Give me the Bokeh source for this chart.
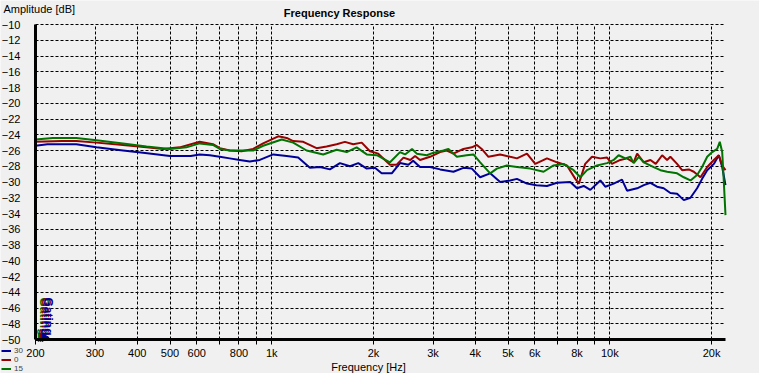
import numpy as np
from bokeh.plotting import figure
from bokeh.models import (ColumnDataSource, FixedTicker, Legend, LegendItem, Label, Range1d)
from bokeh.core.properties import value
from bokeh.embed import file_html
from bokeh.resources import INLINE

# ---------------- data ----------------
series_names = ["30", "0", "15"]

freq_30 = [200, 217, 264, 303, 363, 416, 500, 576, 612, 656, 702, 751, 804, 861, 922, 1010, 1107, 1197,
           1297, 1389, 1486, 1591, 1704, 1803, 1910, 2020, 2114, 2265, 2396, 2537, 2620, 2746, 2940, 3148,
           3448, 3690, 3908, 4136, 4428, 4740, 5076, 5314, 5688, 6066, 6520, 6980, 7640, 8000, 8372, 8760,
           9380, 9700, 10270, 10870, 11250, 12050, 12610, 13190, 13800, 14440, 15110, 15820, 16560, 17330,
           18130, 18760, 19420, 20320, 21020, 21510, 22000]
spl_30 = [-25.4, -25.2, -25.2, -25.6, -26.0, -26.3, -26.7, -26.7, -26.5, -26.6, -26.8, -27.0, -27.2, -27.4,
          -27.2, -26.5, -26.7, -26.9, -28.2, -28.1, -28.4, -27.6, -28.0, -27.6, -28.3, -28.2, -28.9, -28.9,
          -27.6, -27.8, -27.3, -28.1, -28.1, -28.4, -28.7, -28.2, -28.3, -29.4, -28.9, -30.0, -29.8, -29.6,
          -30.2, -30.4, -30.5, -30.1, -30.0, -30.8, -30.5, -31.0, -29.8, -30.6, -30.2, -29.7, -31.1, -30.8,
          -30.4, -30.1, -30.6, -30.8, -31.4, -31.5, -32.3, -32.0, -30.8, -29.6, -28.5, -27.7, -26.6, -28.1,
          -30.4]

freq_0 = [200, 240, 264, 303, 363, 426, 477, 534, 612, 670, 702, 751, 814, 881, 943, 1045, 1107, 1157, 1239,
          1357, 1453, 1556, 1646, 1742, 1846, 1952, 2066, 2238, 2343, 2453, 2570, 2655, 2746, 2940, 3148,
          3294, 3448, 3690, 3908, 4044, 4180, 4376, 4740, 5076, 5314, 5688, 6020, 6520, 6980, 7470, 7910,
          8100, 8460, 8860, 9380, 9820, 10150, 10750, 11250, 11770, 12050, 12610, 13190, 13680, 14290,
          14780, 15110, 15820, 16370, 17130, 17730, 18550, 19420, 20320, 21020, 21510, 22000]
spl_0 = [-24.9, -24.8, -24.8, -25.0, -25.3, -25.6, -25.8, -25.6, -24.9, -25.2, -25.7, -26.0, -26.1, -25.8,
         -25.1, -24.2, -24.4, -24.8, -24.9, -25.7, -25.5, -25.2, -24.9, -25.2, -25.0, -26.1, -26.4, -27.8,
         -27.8, -26.9, -27.2, -26.7, -27.2, -26.8, -26.2, -26.0, -26.4, -25.8, -25.6, -25.3, -25.8, -26.8,
         -26.5, -26.8, -27.0, -26.4, -27.7, -27.0, -27.5, -27.9, -29.6, -30.2, -27.7, -26.8, -27.0, -26.9,
         -27.7, -27.2, -27.0, -27.5, -26.4, -27.5, -27.2, -27.7, -26.6, -27.2, -26.8, -27.7, -28.5, -28.4,
         -28.7, -29.4, -28.1, -27.2, -26.6, -27.9, -28.5]

freq_15 = [200, 225, 264, 303, 363, 426, 500, 559, 612, 670, 702, 751, 823, 881, 943, 1070, 1157, 1268,
           1420, 1556, 1666, 1783, 1910, 2046, 2238, 2396, 2480, 2600, 2686, 2875, 3000, 3220, 3332, 3528,
           3774, 3950, 4136, 4428, 4634, 4960, 5314, 5818, 6372, 6820, 7300, 7816, 8186, 8563, 9170, 9594,
           9820, 10270, 10620, 11120, 11510, 11770, 12190, 12610, 13490, 14120, 14780, 15820, 16560, 17330,
           18130, 18760, 19420, 20100, 20790, 21160, 21510, 21740, 22000]
spl_15 = [-24.6, -24.4, -24.4, -24.7, -25.1, -25.5, -25.8, -25.6, -25.1, -25.3, -25.8, -26.0, -26.0, -26.0,
          -25.4, -24.6, -25.0, -26.0, -26.5, -25.9, -26.2, -25.6, -26.5, -26.6, -27.5, -26.2, -26.5, -25.8,
          -26.4, -26.6, -26.3, -26.0, -25.8, -26.8, -26.6, -26.5, -27.5, -28.9, -28.3, -27.9, -28.1, -28.3,
          -28.7, -27.9, -27.7, -28.5, -29.4, -28.5, -27.9, -27.7, -27.6, -27.2, -26.6, -27.0, -26.8, -27.6,
          -26.8, -27.5, -28.1, -28.5, -28.7, -28.9, -29.4, -29.8, -29.1, -28.1, -26.8, -26.2, -25.8, -24.9,
          -26.2, -29.8, -34.2]

x_ticks = [200, 300, 400, 500, 600, 700, 800, 900, 1000, 2000, 3000, 4000, 5000, 6000, 7000, 8000, 9000,
           10000, 20000]
x_tick_labels = ["200", "300", "400", "500", "600", "", "800", "", "1k", "2k", "3k", "4k", "5k", "6k", "",
                 "8k", "", "10k", "20k"]
y_ticks = list(range(-50, -9, 2))

F_MIN, F_MAX = 200, 22000
DB_MIN, DB_MAX = -50, -10

colors = ["#000099", "#990000", "#007300"]
FONT = "Liberation Sans"
BG = "#f0f0f0"

# ------------- geometry (plot area inside a full-size frame) -------------
W, H = 759, 373
PL, PR, PT, PB = 35, 725, 24, 339            # plot-area edges in px
kx = (PR - PL) / np.log10(F_MAX / F_MIN)     # px per decade
ky = (PB - PT) / (DB_MAX - DB_MIN)           # px per dB
x_lo = F_MIN * 10 ** (-PL / kx)
x_hi = F_MIN * 10 ** ((W - PL) / kx)
y_hi = DB_MAX + PT / ky
y_lo = DB_MAX - (H - PT) / ky


def fx(px):
    return F_MIN * 10 ** ((px - PL) / kx)


def fy(py):
    return DB_MAX - (py - PT) / ky


p = figure(width=W, height=H, x_axis_type="log",
           x_range=Range1d(x_lo, x_hi), y_range=Range1d(y_lo, y_hi),
           output_backend="svg", toolbar_location=None,
           min_border_left=0, min_border_right=0, min_border_top=0, min_border_bottom=0,
           background_fill_color=BG, border_fill_color=BG, outline_line_color=None)

xt = FixedTicker(ticks=x_ticks)
yt = FixedTicker(ticks=y_ticks)
p.xaxis.ticker = xt
p.yaxis.ticker = yt
p.xaxis.fixed_location = DB_MIN
p.yaxis.fixed_location = F_MIN
p.xaxis.bounds = (F_MIN, F_MAX)
p.yaxis.bounds = (DB_MIN, DB_MAX)
p.xaxis.major_label_overrides = {t: l for t, l in zip(x_ticks, x_tick_labels)}

for ax in (p.xaxis, p.yaxis):
    ax.axis_line_width = 3
    ax.axis_line_color = "black"
    ax.minor_tick_line_color = None
    ax.major_label_text_font = FONT
    ax.major_label_text_font_size = "11px"
    ax.major_label_text_color = "black"
    ax.major_tick_in = 0
p.xaxis.major_tick_out = 5
p.xaxis.major_tick_line_color = "black"
p.xaxis.major_label_standoff = 2
p.yaxis.major_tick_out = 0
p.yaxis.major_tick_line_color = None
p.yaxis.major_label_standoff = 15

p.xgrid.ticker = xt
p.ygrid.ticker = yt
p.xgrid.bounds = (F_MIN * 0.999, F_MAX * 1.001)
p.ygrid.bounds = (DB_MIN - 0.01, DB_MAX + 0.01)
p.xgrid.cross_bounds = (DB_MIN, DB_MAX)
p.ygrid.cross_bounds = (F_MIN, F_MAX)
for g in (p.xgrid, p.ygrid):
    g.grid_line_color = "black"
    g.grid_line_dash = "3 2"
    g.grid_line_width = 1
    g.grid_line_alpha = 1.0

# ---------------- curves ----------------
renderers = []
for fr, sp, c in zip([freq_30, freq_0, freq_15], [spl_30, spl_0, spl_15], colors):
    src = ColumnDataSource(dict(f=fr, db=sp))
    r = p.line("f", "db", source=src, line_color=c, line_width=2)
    renderers.append(r)

legend = Legend(items=[LegendItem(label=n, renderers=[r]) for n, r in zip(series_names, renderers)],
                location=(1, 0), orientation="vertical", padding=0, margin=0, spacing=0,
                label_height=9, glyph_height=9, glyph_width=10, label_standoff=3,
                label_text_font=FONT, label_text_font_size="8px", label_text_baseline="middle",
                background_fill_alpha=0, border_line_alpha=0)
p.add_layout(legend)

# ---------------- gating marker ----------------
for dx, c in zip([-2, 0, 2], [colors[2], colors[1], colors[0]]):
    p.text(x=[fx(45)], y=[fy(316)], text=["Gating"], angle=-np.pi / 2, x_offset=dx,
           text_color=c, text_font=value(FONT), text_font_style="bold", text_font_size="12px",
           text_align="center", text_baseline="middle")
for px, c in zip([40, 42, 44], [colors[2], colors[1], colors[0]]):
    p.scatter(x=[fx(px)], y=[fy(337)], marker="triangle", angle=-np.pi / 2, size=8,
              fill_color=c, line_color=c)

# ---------------- texts ----------------
p.add_layout(Label(x=fx(339), y=fy(12), text="Frequency Response", text_align="center",
                   text_baseline="middle", text_font=FONT, text_font_style="bold",
                   text_font_size="11px", text_color="black"))
p.add_layout(Label(x=fx(3), y=fy(8), text="Amplitude [dB]", text_align="left",
                   text_baseline="middle", text_font=FONT, text_font_size="11px",
                   text_color="black"))
p.add_layout(Label(x=fx(368), y=fy(366), text="Frequency [Hz]", text_align="center",
                   text_baseline="middle", text_font=FONT, text_font_size="11px",
                   text_color="black"))

open("out.html", "w").write(file_html(p, INLINE))
